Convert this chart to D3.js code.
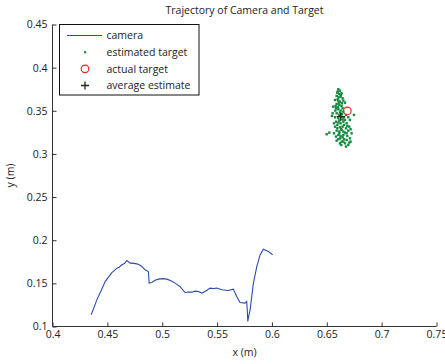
<!DOCTYPE html>
<html>
<head>
    <title>Trajectory of Camera and Target</title>
    <script src='https://d3js.org/d3.v7.min.js'></script>
    <style>
        html,body {
            margin: 0;
            background-color: white;
        }
        text {
            font-family: 'Open Sans', sans-serif;
            fill: #222;
        }
    </style>
</head>
<body>
<div id='main'></div>
<script>

//DATA
const camX = [0.4352,0.4380,0.4404,0.4445,0.4480,0.4515,0.4541,0.4565,0.4587,0.4610,0.4632,0.4655,0.4678,0.4708,0.4740,0.4769,0.4795,0.4814,0.4844,0.4874,0.4881,0.4905,0.4935,0.4965,0.5005,0.5042,0.5080,0.5117,0.5163,0.5208,0.5240,0.5270,0.5300,0.5330,0.5361,0.5391,0.5436,0.5470,0.5497,0.5543,0.5603,0.5648,0.5679,0.5709,0.5755,0.5770,0.5776,0.5780,0.5785,0.5801,0.5831,0.5862,0.5892,0.5922,0.5967,0.6007]
const camY = [0.1136,0.1225,0.1309,0.1420,0.1521,0.1580,0.1625,0.1650,0.1676,0.1690,0.1715,0.1730,0.1764,0.1734,0.1732,0.1726,0.1712,0.1695,0.1657,0.1637,0.1503,0.1510,0.1535,0.1549,0.1555,0.1549,0.1530,0.1503,0.1463,0.1394,0.1400,0.1398,0.1410,0.1405,0.1387,0.1405,0.1445,0.1440,0.1445,0.1425,0.1417,0.1433,0.1347,0.1278,0.1271,0.1290,0.1174,0.1058,0.1097,0.1193,0.1503,0.1695,0.1830,0.1896,0.1869,0.1830]

const estX = [0.6605,0.6620,0.6596,0.6614,0.6635,0.6590,0.6608,0.6626,0.6644,0.6575,0.6605,0.6620,0.6651,0.6666,0.6590,0.6614,0.6635,0.6559,0.6584,0.6605,0.6626,0.6651,0.6553,0.6590,0.6614,0.6638,0.6675,0.6748,0.6575,0.6605,0.6644,0.6657,0.6584,0.6605,0.6626,0.6651,0.6681,0.6711,0.6575,0.6596,0.6620,0.6644,0.6675,0.6705,0.6590,0.6614,0.6635,0.6666,0.6696,0.6566,0.6499,0.6523,0.6605,0.6626,0.6651,0.6687,0.6726,0.6620,0.6657,0.6681,0.6711,0.6590,0.6635,0.6666,0.6620,0.6717,0.6696,0.6675,
    0.6599,0.6629,0.6599,0.6638,0.6602,0.6620,0.6578,0.6632,0.6666,0.6614,0.6596,0.6657,0.6632,0.6651,0.6584,0.6614,0.6681,0.6644,0.6651,0.6705,0.6611,0.6581,0.6644,0.6547,0.6696,0.6566,0.6687,0.6717,0.6605,0.6632]
const estY = [0.3749,0.3733,0.3710,0.3695,0.3703,0.3672,0.3656,0.3664,0.3645,0.3625,0.3618,0.3606,0.3618,0.3594,0.3579,0.3567,0.3556,0.3548,0.3529,0.3517,0.3502,0.3490,0.3471,0.3471,0.3452,0.3463,0.3452,0.3452,0.3425,0.3413,0.3401,0.3425,0.3374,0.3363,0.3355,0.3374,0.3355,0.3394,0.3316,0.3297,0.3309,0.3316,0.3297,0.3316,0.3270,0.3259,0.3278,0.3247,0.3270,0.3239,0.3228,0.3247,0.3220,0.3208,0.3220,0.3208,0.3239,0.3181,0.3170,0.3162,0.3181,0.3154,0.3143,0.3123,0.3123,0.3143,0.3104,0.3085,
    0.3722,0.3683,0.3633,0.3587,0.3540,0.3479,0.3502,0.3432,0.3394,0.3386,0.3336,0.3336,0.3286,0.3259,0.3201,0.3239,0.3239,0.3193,0.3143,0.3131,0.3594,0.3556,0.3529,0.3440,0.3425,0.3355,0.3324,0.3286,0.3170,0.3104]

const actualTarget = [0.6687, 0.3498]
const averageEstimate = [0.6627, 0.3432]

const xTicks = [0.4,0.45,0.5,0.55,0.6,0.65,0.7,0.75]
const yTicks = [0.1,0.15,0.2,0.25,0.3,0.35,0.4,0.45]
const legendNames = ['camera','estimated target','actual target','average estimate']

//LAYOUT
let W = 445, H = 364
let mLeft = 52.5, mRight = 436.5, mTop = 24.5, mBottom = 326.5

let svg = d3.select('#main').append('svg')
    .attr('width', W)
    .attr('height', H)

let x = d3.scaleLinear().domain([0.4,0.75]).range([mLeft,mRight])
let y = d3.scaleLinear().domain([0.1,0.45]).range([mBottom,mTop])

//AXES
let xAxis = svg.append('g')
    .attr('transform','translate(0,'+mBottom+')')
    .call(d3.axisBottom(x).tickValues(xTicks).tickSize(-4).tickPadding(5).tickFormat(d3.format('')))
let yAxis = svg.append('g')
    .attr('transform','translate('+mLeft+',0)')
    .call(d3.axisLeft(y).tickValues(yTicks).tickSize(-4).tickPadding(5).tickFormat(d3.format('')))

svg.selectAll('.domain').attr('stroke','#333')
xAxis.select('.domain').attr('d','M'+mLeft+',0H'+mRight)
yAxis.select('.domain').attr('d','M0,'+mTop+'V'+mBottom)
svg.selectAll('.tick line').attr('stroke','#333')
svg.selectAll('.tick text').style('font-size','10.5px').attr('fill','#222')
xAxis.selectAll('.tick text').attr('dy','0.6em')

//TITLES
svg.append('text').text('Trajectory of Camera and Target')
    .attr('x', (mLeft+mRight)/2).attr('y', 14)
    .attr('text-anchor','middle').style('font-size','10.5px')
svg.append('text').text('x (m)')
    .attr('x', (mLeft+mRight)/2).attr('y', 356)
    .attr('text-anchor','middle').style('font-size','10.5px')
svg.append('text').text('y (m)')
    .attr('transform','translate(14,'+((mTop+mBottom)/2)+') rotate(-90)')
    .attr('text-anchor','middle').style('font-size','10.5px')

//MARKS
let line = d3.line().x(d => x(d[0])).y(d => y(d[1]))
svg.append('path')
    .datum(d3.zip(camX, camY))
    .attr('d', line)
    .attr('fill','none')
    .attr('stroke','#2a4cae')
    .attr('stroke-width',1.1)

svg.append('g').selectAll('rect')
    .data(d3.zip(estX, estY))
    .join('rect')
    .attr('x', d => x(d[0]) - 1.2)
    .attr('y', d => y(d[1]) - 1.2)
    .attr('width', 2.4)
    .attr('height', 2.4)
    .attr('fill','#138a3e')

svg.append('circle')
    .attr('cx', x(actualTarget[0]))
    .attr('cy', y(actualTarget[1]))
    .attr('r', 3.8)
    .attr('fill','none')
    .attr('stroke','#f22')
    .attr('stroke-width',1.2)

function plus(g,cx,cy){
    g.append('path')
        .attr('d','M'+(cx-4)+','+cy+'H'+(cx+4)+'M'+cx+','+(cy-4)+'V'+(cy+4))
        .attr('stroke','#1a2a1a')
        .attr('stroke-width',1.3)
}
plus(svg, x(averageEstimate[0]), y(averageEstimate[1]))

//LEGEND
let lg = svg.append('g')
lg.append('rect')
    .attr('x',59.5).attr('y',24.5)
    .attr('width',139.5).attr('height',70.5)
    .attr('fill','white').attr('stroke','#111').attr('stroke-width',1)

let rowY = d3.scalePoint().domain(legendNames).range([35.5,85.5])
lg.selectAll('text.lbl').data(legendNames).join('text')
    .attr('class','lbl')
    .text(d => d)
    .attr('x',106.5)
    .attr('y', d => rowY(d))
    .attr('dy','0.35em')
    .style('font-size','10.5px')

lg.append('path')
    .attr('d','M67,'+rowY('camera')+'H102')
    .attr('stroke','#2a4cae').attr('stroke-width',1.1)
lg.append('rect')
    .attr('x',84).attr('y',rowY('estimated target')-1)
    .attr('width',2.2).attr('height',2.2)
    .attr('fill','#138a3e')
lg.append('circle')
    .attr('cx',85).attr('cy',rowY('actual target'))
    .attr('r',3.8).attr('fill','none')
    .attr('stroke','#f22').attr('stroke-width',1.2)
plus(lg, 85, rowY('average estimate'))

</script>
</body>
</html>
